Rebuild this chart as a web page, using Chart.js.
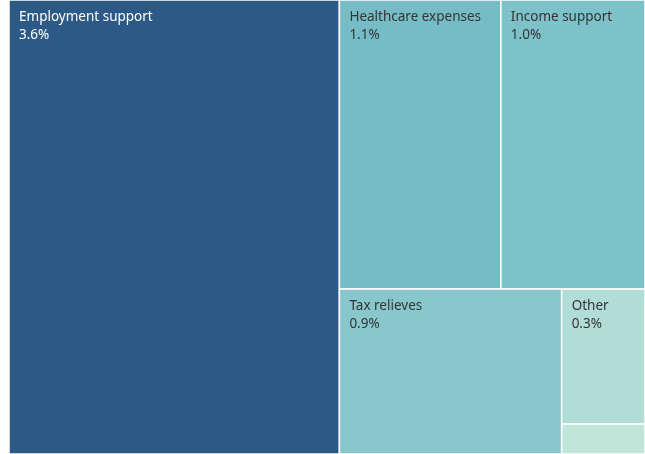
<!DOCTYPE html>
<html>
<head>
<meta charset="utf-8">
<script src="https://cdn.jsdelivr.net/npm/chart.js@4"></script>
<style>
  html, body { margin: 0; padding: 0; background: #fff; }
  #wrap { width: 645px; height: 454px; }
</style>
</head>
<body>
<div id="wrap"><canvas id="tree"></canvas></div>
<script>
const categories = ['Employment support', 'Healthcare expenses', 'Income support', 'Tax relieves', 'Other', ''];
const values = [3.6, 1.12, 1.0, 0.88, 0.27, 0.06];
const valueLabels = ['3.6%', '1.1%', '1.0%', '0.9%', '0.3%', ''];
const colors = ['#2c5985', '#76bcc6', '#7dc1c9', '#88c7cc', '#b1ddd6', '#c1e6d9'];
const textColors = ['#ffffff', '#333333', '#333333', '#333333', '#333333', '#333333'];

// aspect ratio of the worst rect in a row laid along `side`
function worst(row, side) {
    const s = row.reduce((a, b) => a + b, 0);
    let max = 0;
    row.forEach(a => {
        const r = Math.max(side * side * a / (s * s), (s * s) / (side * side * a));
        if (r > max) max = r;
    });
    return max;
}

// squarified layout in pixel space, returned as 0..1 fractions
function squarify(vals, W, H) {
    const total = vals.reduce((a, b) => a + b, 0);
    const areas = vals.map(v => v / total * W * H);
    const rects = [];
    let x = 0, y = 0, w = W, h = H;
    let i = 0;
    while (i < areas.length) {
        const side = Math.min(w, h);
        let row = [areas[i]];
        let j = i + 1;
        // small tolerance so near-ties keep growing the row
        while (j < areas.length && worst(row.concat(areas[j]), side) <= worst(row, side) * 1.05) {
            row.push(areas[j]);
            j++;
        }
        const s = row.reduce((a, b) => a + b, 0);
        if (w >= h) {
            const cw = s / h;
            let cy = y;
            row.forEach(a => { rects.push({ x: x, y: cy, w: cw, h: a / cw }); cy += a / cw; });
            x += cw; w -= cw;
        } else {
            const rh = s / w;
            let cx = x;
            row.forEach(a => { rects.push({ x: cx, y: y, w: a / rh, h: rh }); cx += a / rh; });
            y += rh; h -= rh;
        }
        i = j;
    }
    return rects.map(r => ({ x0: r.x / W, x1: (r.x + r.w) / W, y0: r.y / H, y1: (r.y + r.h) / H }));
}

const treemapPlugin = {
    id: 'treemapDraw',
    afterDatasetsDraw(chart) {
        const { ctx, chartArea, scales } = chart;
        const vals = chart.data.datasets[0].data;
        const rects = squarify(vals, chartArea.right - chartArea.left, chartArea.bottom - chartArea.top);
        ctx.save();
        rects.forEach((r, i) => {
            const left = scales.x.getPixelForValue(r.x0);
            const right = scales.x.getPixelForValue(r.x1);
            const top = scales.y.getPixelForValue(r.y0);
            const bottom = scales.y.getPixelForValue(r.y1);
            ctx.fillStyle = colors[i];
            ctx.fillRect(left, top, right - left, bottom - top);
            ctx.strokeStyle = '#ffffff';
            ctx.lineWidth = 1.5;
            ctx.strokeRect(left, top, right - left, bottom - top);
            ctx.fillStyle = textColors[i];
            ctx.font = '13.5px "Noto Sans"';
            ctx.textBaseline = 'middle';
            ctx.fillText(categories[i], left + 10, top + 17);
            ctx.fillText(valueLabels[i], left + 10, top + 35);
        });
        ctx.restore();
    }
};

new Chart(document.getElementById('tree'), {
    type: 'scatter',
    data: {
        labels: categories,
        datasets: [{ label: 'Share', data: values, pointRadius: 0, showLine: false }]
    },
    options: {
        responsive: true,
        maintainAspectRatio: false,
        animation: false,
        layout: { padding: { left: 9, top: 0, right: 0, bottom: 0 } },
        plugins: { legend: { display: false }, tooltip: { enabled: false } },
        scales: {
            x: { type: 'linear', min: 0, max: 1, display: false },
            y: { type: 'linear', min: 0, max: 1, reverse: true, display: false }
        }
    },
    plugins: [treemapPlugin]
});
</script>
</body>
</html>
